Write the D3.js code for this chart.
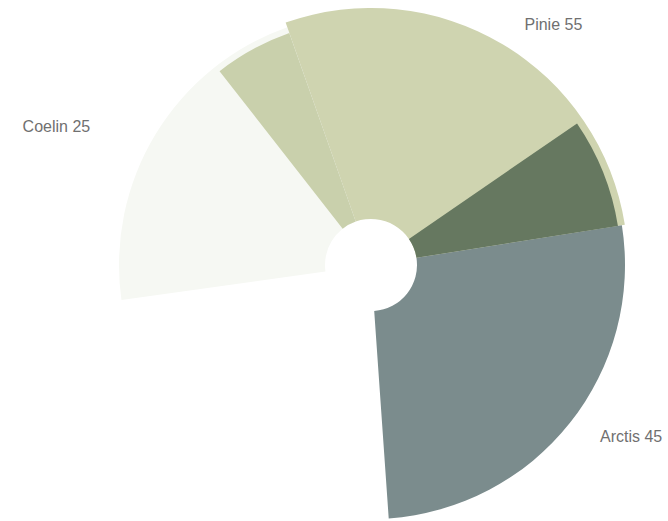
<!DOCTYPE html>
<html>
<head>
<meta charset="utf-8">
<script src="https://cdn.jsdelivr.net/npm/d3@7"></script>
<style>
  body { margin: 0; background: #fff; }
  svg { display: block; }
</style>
</head>
<body>
<div id="chart"></div>
<script>
// main slices; sizes, in degrees of a full turn
const names = ["Coelin", "Pinie", "Arctis"];
const labelValues = [25, 55, 45];
const shares = [78.6, 100.4, 95];
const blankShare = 86;
const colors = ["#f6f8f3", "#cfd4b0", "#7b8c8d"];

// darker wedges laid over the end part of a main slice
const overlayHosts = ["Coelin", "Pinie"];
const overlayShares = [18.6, 25.5];
const overlayColors = ["#c9d0ac", "#667860"];

const width = 668;
const height = 521;
const cx = 371;
const cy = 265;
const innerR = 46;
const outerR = { Coelin: 252, Pinie: 257, Arctis: 254 };
const overlayOuterR = { Coelin: 246, Pinie: 250 };
const labelR = 290;
const labelNudge = { Coelin: [-33, 18], Pinie: [5, 14], Arctis: [2, -4] };

const deg = d3.scaleLinear().domain([0, 360]).range([0, 2 * Math.PI]);

const svg = d3
  .select("#chart")
  .append("svg")
  .attr("width", width)
  .attr("height", height);

const g = svg.append("g").attr("transform", `translate(${cx},${cy})`);

const pie = d3
  .pie()
  .sort(null)
  .value((d) => d.share)
  .startAngle(deg(262))
  .endAngle(deg(262 + 360));

const rows = names.map((n, i) => ({
  name: n,
  value: labelValues[i],
  share: shares[i],
  color: colors[i],
}));
rows.push({ name: "blank", share: blankShare, color: "none" });

const arcs = pie(rows).filter((d) => d.data.name !== "blank");

const arc = d3.arc();

// base slices
g.append("g")
  .attr("class", "slices")
  .selectAll("path")
  .data(arcs)
  .enter()
  .append("path")
  .attr("d", (d) =>
    arc({
      startAngle: d.startAngle,
      endAngle: d.endAngle,
      innerRadius: innerR,
      outerRadius: outerR[d.data.name],
    })
  )
  .attr("fill", (d) => d.data.color);

// overlay wedges, cut from the end of their host slice
const overlays = overlayHosts.map((host, i) => {
  const h = arcs.find((a) => a.data.name === host);
  return {
    host: host,
    startAngle: h.endAngle - deg(overlayShares[i]),
    endAngle: h.endAngle,
    color: overlayColors[i],
  };
});

g.append("g")
  .attr("class", "overlays")
  .selectAll("path")
  .data(overlays)
  .enter()
  .append("path")
  .attr("d", (d) =>
    arc({
      startAngle: d.startAngle,
      endAngle: d.endAngle,
      innerRadius: innerR,
      outerRadius: overlayOuterR[d.host],
    })
  )
  .attr("fill", (d) => d.color);

// labels
g.append("g")
  .attr("class", "labels")
  .selectAll("text")
  .data(arcs)
  .enter()
  .append("text")
  .each(function (d) {
    const mid = (d.startAngle + d.endAngle) / 2;
    const right = Math.sin(mid) > 0;
    const nudge = labelNudge[d.data.name];
    d3.select(this)
      .attr("x", labelR * Math.sin(mid) + nudge[0])
      .attr("y", -labelR * Math.cos(mid) + nudge[1])
      .attr("text-anchor", right ? "start" : "end");
  })
  .attr("font-family", "'Liberation Sans', Arial, sans-serif")
  .attr("font-size", "16px")
  .attr("fill", "#707070")
  .text((d) => `${d.data.name} ${d.data.value}`);
</script>
</body>
</html>
